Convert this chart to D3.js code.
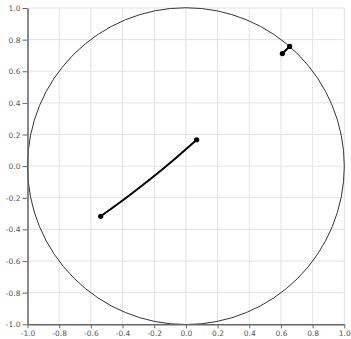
<!DOCTYPE html>
<html>
<head>
<meta charset="utf-8">
<script src="https://cdn.jsdelivr.net/npm/d3@7"></script>
<style>
  html, body { margin: 0; padding: 0; background: #fff; }
  svg { display: block; }
  .axis text { font-family: "DejaVu Sans", sans-serif; font-size: 7.5px; fill: #555; }
  .axis path, .axis line { stroke: #666; }
</style>
</head>
<body>
<svg id="chart" width="351" height="339"></svg>
<script>
// Tick positions and labels, shared by both axes
const tickValues = [-1.0, -0.8, -0.6, -0.4, -0.2, 0.0, 0.2, 0.4, 0.6, 0.8, 1.0];
const tickLabels = ["-1.0", "-0.8", "-0.6", "-0.4", "-0.2", "0.0", "0.2", "0.4", "0.6", "0.8", "1.0"];

// Boundary circle (unit disk)
const boundary = [{ cx: 0, cy: 0, r: 1 }];

// Curve paths, as [x, y] points
const pathLong = [[-0.538, -0.317], [-0.381, -0.203], [-0.228, -0.085], [-0.078, 0.039], [0.068, 0.167]];
const pathShort = [[0.609, 0.712], [0.632, 0.735], [0.655, 0.757]];
const paths = [pathLong, pathShort];

const margin = { left: 27.5, top: 8, right: 6.7, bottom: 14.7 };
const W = 351, H = 339;
const innerW = W - margin.left - margin.right;
const innerH = H - margin.top - margin.bottom;

const svg = d3.select("#chart");
const g = svg.append("g").attr("transform", `translate(${margin.left},${margin.top})`);

const x = d3.scaleLinear().domain([-1, 1]).range([0, innerW]);
const y = d3.scaleLinear().domain([-1, 1]).range([innerH, 0]);

// Grid
g.append("g").selectAll("line.vx").data(tickValues).join("line")
  .attr("x1", d => x(d)).attr("x2", d => x(d))
  .attr("y1", 0).attr("y2", innerH)
  .attr("stroke", "#e3e3e3").attr("stroke-width", 1);
g.append("g").selectAll("line.hy").data(tickValues).join("line")
  .attr("y1", d => y(d)).attr("y2", d => y(d))
  .attr("x1", 0).attr("x2", innerW)
  .attr("stroke", "#e3e3e3").attr("stroke-width", 1);

// Unit circle
g.append("g").selectAll("circle").data(boundary).join("circle")
  .attr("cx", d => x(d.cx)).attr("cy", d => y(d.cy))
  .attr("r", d => x(d.r) - x(0))
  .attr("fill", "none").attr("stroke", "#333").attr("stroke-width", 1);

// Axes
const fmt = d => tickLabels[tickValues.indexOf(d)];
g.append("g").attr("class", "axis")
  .attr("transform", `translate(0,${innerH})`)
  .call(d3.axisBottom(x).tickValues(tickValues).tickFormat(fmt).tickSize(4).tickSizeOuter(0).tickPadding(2))
  .call(a => a.select(".domain").attr("stroke-width", 1.5));
g.append("g").attr("class", "axis")
  .call(d3.axisLeft(y).tickValues(tickValues).tickFormat(fmt).tickSize(5).tickSizeOuter(0).tickPadding(2))
  .call(a => a.selectAll("text").attr("dy", "0.34em"))
  .call(a => a.select(".domain").attr("stroke-width", 1.5));

// Curves
const line = d3.line().x(d => x(d[0])).y(d => y(d[1])).curve(d3.curveCatmullRom);
g.append("g").selectAll("path").data(paths).join("path")
  .attr("d", line)
  .attr("fill", "none").attr("stroke", "#000").attr("stroke-width", 2);

// End markers
const ends = paths.flatMap(p => [p[0], p[p.length - 1]]);
g.append("g").selectAll("circle").data(ends).join("circle")
  .attr("cx", d => x(d[0])).attr("cy", d => y(d[1]))
  .attr("r", 2.6).attr("fill", "#000");
</script>
</body>
</html>
